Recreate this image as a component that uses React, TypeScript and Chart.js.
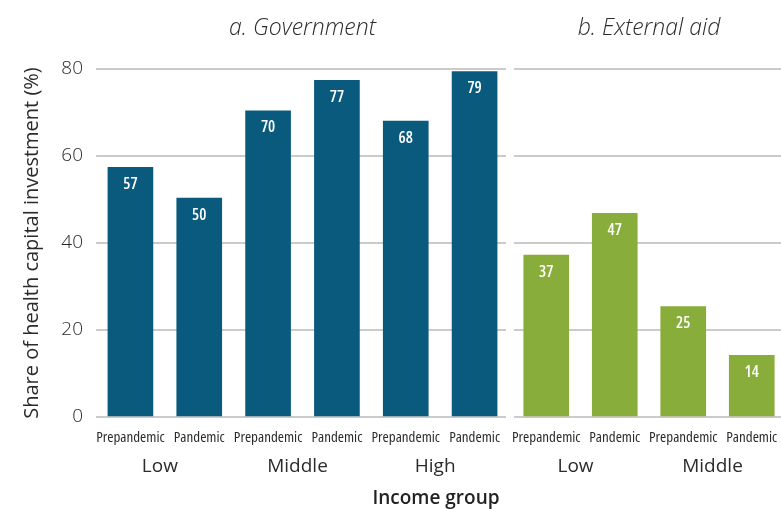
import React, { useEffect, useRef } from "react";
import { Chart, registerables } from "chart.js";

Chart.register(...registerables);

// ---- data ----
const govCategories = ["Prepandemic", "Pandemic", "Prepandemic", "Pandemic", "Prepandemic", "Pandemic"];
const govGroups = ["Low", "Middle", "High"];
const govValues = [57.4, 50.3, 70.4, 77.4, 68.0, 79.4];

const aidCategories = ["Prepandemic", "Pandemic", "Prepandemic", "Pandemic"];
const aidGroups = ["Low", "Middle"];
const aidValues = [37.2, 46.8, 25.4, 14.2];

const yMin = 0;
const yMax = 80;
const yStep = 20;

const govTitle = "a. Government";
const aidTitle = "b. External aid";
const yTitle = "Share of health capital investment (%)";
const xTitle = "Income group";

// ---- styles ----
const BLUE = "#0A5A7D";
const GREEN = "#89AD3B";
const GRID = "#cbcbcb";
const TEXT = "#2b2b2b";
const LIGHT_FONT = "'Open Sans', 'Noto Sans', sans-serif";
const NARROW_FONT = "'Open Sans', sans-serif";

const barLabelPlugin = {
  id: "barLabels",
  afterDatasetsDraw(chart: any) {
    const ctx = chart.ctx;
    const meta = chart.getDatasetMeta(0);
    const data = chart.data.datasets[0].data as number[];
    ctx.save();
    ctx.fillStyle = "#ffffff";
    ctx.font = `600 condensed 16px ${NARROW_FONT}`;
    ctx.textAlign = "center";
    ctx.textBaseline = "middle";
    meta.data.forEach((bar: any, i: number) => {
      ctx.fillText(String(Math.round(data[i])), bar.x, bar.y + 17);
    });
    ctx.restore();
  },
};

const panelTitlePlugin = {
  id: "panelTitle",
  afterDraw(chart: any, _args: any, opts: any) {
    const ctx = chart.ctx;
    const area = chart.chartArea;
    ctx.save();
    ctx.fillStyle = TEXT;
    ctx.font = `italic 300 23px ${LIGHT_FONT}`;
    ctx.textAlign = "center";
    ctx.textBaseline = "middle";
    ctx.fillText(opts.text, (area.left + area.right) / 2, 28);
    ctx.restore();
  },
};

// clears a thin vertical strip of gridlines to leave the gap between the panels
const panelGapPlugin = {
  id: "panelGap",
  beforeDatasetsDraw(chart: any, _args: any, opts: any) {
    const ctx = chart.ctx;
    const area = chart.chartArea;
    ctx.save();
    ctx.clearRect(opts.from, area.top - 3, opts.to - opts.from, area.bottom - area.top + 6);
    ctx.restore();
  },
};

function makeConfig(
  categories: string[],
  groups: string[],
  values: number[],
  color: string,
  title: string,
  showY: boolean,
  padding: { left: number; right: number },
  gap: { from: number; to: number }
): any {
  return {
    type: "bar",
    data: {
      labels: categories,
      datasets: [
        {
          data: values,
          backgroundColor: color,
          barThickness: 45,
          xAxisID: "x",
        },
      ],
    },
    plugins: [panelGapPlugin, barLabelPlugin, panelTitlePlugin],
    options: {
      animation: false,
      responsive: false,
      devicePixelRatio: 1,
      layout: { padding: { left: padding.left, right: padding.right, top: 69, bottom: 27 } },
      plugins: {
        legend: { display: false },
        tooltip: { enabled: false },
        title: { display: false },
        panelTitle: { text: title },
        panelGap: gap,
      },
      scales: {
        x: {
          type: "category",
          position: "bottom",
          weight: 0,
          grid: { display: false, drawTicks: false },
          border: { display: false },
          ticks: {
            padding: 12,
            autoSkip: false,
            maxRotation: 0,
            color: TEXT,
            font: { family: NARROW_FONT, size: 15, weight: "normal condensed" },
          },
          afterFit: (s: any) => {
            s.height = 30;
            s.paddingLeft = 0;
            s.paddingRight = 0;
          },
        },
        x2: {
          type: "category",
          labels: groups,
          position: "bottom",
          weight: 1,
          offset: true,
          grid: { display: false, drawTicks: false },
          border: { display: false },
          ticks: {
            padding: 8,
            labelOffset: -5,
            autoSkip: false,
            maxRotation: 0,
            color: TEXT,
            font: { family: LIGHT_FONT, size: 19, weight: 400 },
          },
          afterFit: (s: any) => {
            s.height = 35;
            s.paddingLeft = 0;
            s.paddingRight = 0;
          },
        },
        y: {
          display: true,
          min: yMin,
          max: yMax,
          position: "left",
          border: { display: false },
          grid: { color: GRID, lineWidth: 2, drawTicks: false },
          ticks: {
            display: showY,
            stepSize: yStep,
            padding: 13,
            color: TEXT,
            font: { family: LIGHT_FONT, size: 19, weight: 300 },
          },
          title: {
            display: showY,
            text: yTitle,
            color: TEXT,
            padding: { top: 20, bottom: 0 },
            font: { family: LIGHT_FONT, size: 20, weight: 400 },
          },
          afterFit: (s: any) => {
            s.width = showY ? 96 : 0;
          },
        },
      },
    },
  };
}

export default function App() {
  const leftRef = useRef<HTMLCanvasElement | null>(null);
  const rightRef = useRef<HTMLCanvasElement | null>(null);

  useEffect(() => {
    const left = new Chart(
      leftRef.current as HTMLCanvasElement,
      makeConfig(govCategories, govGroups, govValues, BLUE, govTitle, true, { left: 0, right: 6 }, { from: 506, to: 515 })
    );
    const right = new Chart(
      rightRef.current as HTMLCanvasElement,
      makeConfig(aidCategories, aidGroups, aidValues, GREEN, aidTitle, false, { left: 7, right: 9 }, { from: 0, to: 9 })
    );
    return () => {
      left.destroy();
      right.destroy();
    };
  }, []);

  return (
    <div
      style={{
        position: "fixed",
        left: 0,
        top: 0,
        width: 781,
        height: 509,
        overflow: "hidden",
        background: "#ffffff",
      }}
    >
      <canvas
        ref={leftRef}
        width={515}
        height={509}
        style={{ position: "absolute", left: 0, top: 0, width: 515, height: 509, display: "block" }}
      />
      <canvas
        ref={rightRef}
        width={290}
        height={509}
        style={{ position: "absolute", left: 505, top: 0, width: 290, height: 509, display: "block" }}
      />
      <div
        style={{
          position: "absolute",
          left: 286,
          top: 486,
          width: 300,
          textAlign: "center",
          fontFamily: LIGHT_FONT,
          fontWeight: 600,
          fontSize: 19,
          lineHeight: "22px",
          color: "#222",
        }}
      >
        {xTitle}
      </div>
    </div>
  );
}
